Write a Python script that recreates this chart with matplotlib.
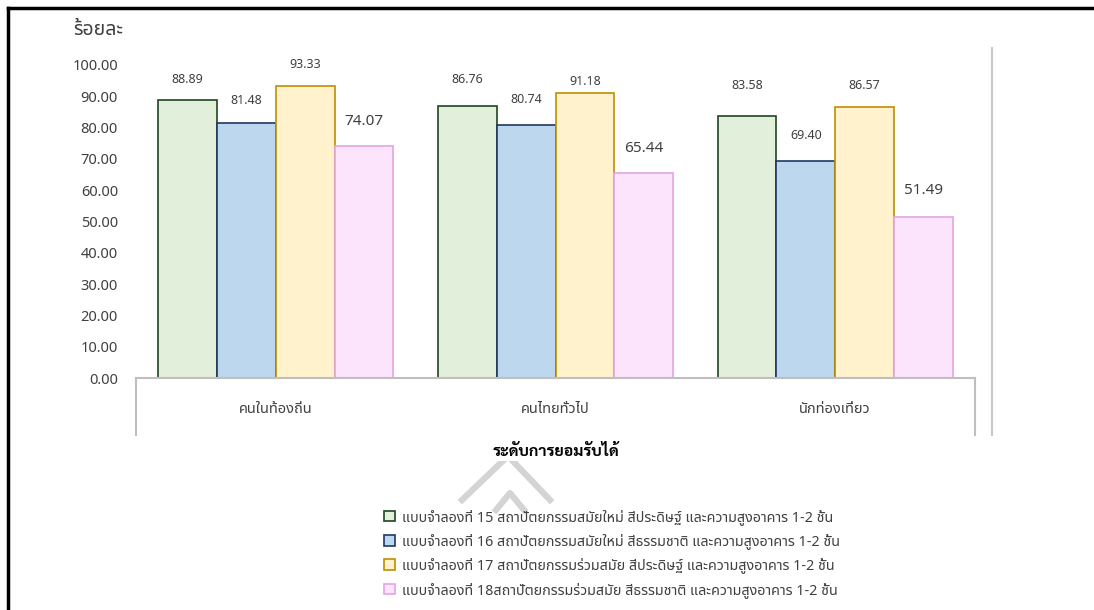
import matplotlib
matplotlib.use("Agg")
import numpy as np
import matplotlib.pyplot as plt
from matplotlib import font_manager
from matplotlib.lines import Line2D

# ฟอนต์ภาษาไทย
fl = font_manager.fontManager.ttflist
names = set(f.name for f in fl)
thai_font = 'Noto Sans Thai' if 'Noto Sans Thai' in names else 'Sarabun'
bold_ok = any(f.name == thai_font and f.weight in (700, 'bold') for f in fl)
thai_bold = thai_font if bold_ok or 'Sarabun' not in names else 'Sarabun'
plt.rcParams['font.family'] = ['Noto Sans', thai_font, 'DejaVu Sans']

# ข้อมูล
groups = ['คนในท้องถิ่น', 'คนไทยทั่วไป', 'นักท่องเที่ยว']
series = [
    'แบบจำลองที่ 15 สถาปัตยกรรมสมัยใหม่ สีประดิษฐ์ และความสูงอาคาร 1-2 ชั้น',
    'แบบจำลองที่ 16 สถาปัตยกรรมสมัยใหม่ สีธรรมชาติ และความสูงอาคาร 1-2 ชั้น',
    'แบบจำลองที่ 17 สถาปัตยกรรมร่วมสมัย สีประดิษฐ์ และความสูงอาคาร 1-2 ชั้น',
    'แบบจำลองที่ 18สถาปัตยกรรมร่วมสมัย สีธรรมชาติ และความสูงอาคาร 1-2 ชั้น',
]
m15 = [88.89, 86.76, 83.58]
m16 = [81.48, 80.74, 69.40]
m17 = [93.33, 91.18, 86.57]
m18 = [74.07, 65.44, 51.49]
values = [m15, m16, m17, m18]
yticks = [0, 10, 20, 30, 40, 50, 60, 70, 80, 90, 100]

# สไตล์
fills = ['#E2EFDA', '#BDD7EE', '#FFF2CC', '#FCE4FC']
edges = ['#1E4620', '#1F3864', '#BF8F00', '#E2A6E2']
label_sizes = [9, 9, 9, 11]
# ระยะป้ายตัวเลขเหนือแท่ง (px)
label_offsets = [[20, 22, 21, 25], [27, 26, 11, 25], [31, 25, 22, 26]]

W, H = 1094, 610
fig = plt.figure(figsize=(W / 100, H / 100), dpi=100)

def fx(px):
    return px / W

def fy(py):
    return 1 - py / H

ax = fig.add_axes([fx(136), fy(378), fx(975) - fx(136), fy(65) - fy(378)])
x = np.arange(len(groups))
bw = 0.21
bars = []
for i, vals in enumerate(values):
    pos = x + (i - 1.5) * bw
    b = ax.bar(pos, vals, bw, color=fills[i], edgecolor=edges[i],
               linewidth=1.2, label=series[i], zorder=2)
    bars.append(b)
    for j, v in enumerate(vals):
        ax.annotate('%.2f' % v, (pos[j], v),
                    xytext=(0, label_offsets[j][i] * 0.72),
                    textcoords='offset points', ha='center', va='center',
                    fontsize=label_sizes[i], color='#404040',
                    annotation_clip=False)

ax.set_xlim(-0.5, 2.5)
ax.set_ylim(0, 100)
ax.set_yticks(yticks)
ax.set_yticklabels(['%.2f' % t for t in yticks])
ax.tick_params(axis='y', length=0, pad=13, labelsize=10.5, labelcolor='#404040')
ax.set_xticks([])
for s in ['top', 'left', 'right']:
    ax.spines[s].set_visible(False)
ax.spines['bottom'].set_color('#BFBFBF')
ax.spines['bottom'].set_linewidth(1.5)
ax.patch.set_visible(False)

# ป้ายหมวดหมู่และกรอบแกน
for j, g in enumerate(groups):
    ax.text(x[j], -0.1, g, transform=ax.get_xaxis_transform(),
            ha='center', va='center', fontsize=10.5, color='#404040')
for xe in [-0.5, 2.5]:
    ax.plot([xe, xe], [0, -0.182], transform=ax.get_xaxis_transform(),
            color='#BFBFBF', linewidth=1.5, clip_on=False)

fig.add_artist(Line2D([fx(992), fx(992)], [fy(48), fy(435)],
                      color='#C8C8C8', linewidth=1.5))

# ชื่อแกน
fig.text(fx(73), fy(30), 'ร้อยละ', fontsize=14, color='#404040', va='center')

# ลายน้ำ
fig.add_artist(Line2D([fx(462), fx(508), fx(550)], [fy(500), fy(456), fy(500)],
                      color='#D4D4D4', linewidth=4.5, zorder=0))
fig.add_artist(Line2D([fx(496), fx(510), fx(524)], [fy(510), fy(493), fy(510)],
                      color='#D4D4D4', linewidth=4.5, zorder=0))

fig.text(fx(556), fy(452), 'ระดับการยอมรับได้', fontsize=11.5, fontweight='bold',
         family=['Noto Sans', thai_bold, 'DejaVu Sans'],
         ha='center', va='center', color='black', zorder=3,
         bbox=dict(facecolor='white', edgecolor='none', pad=0.5))

leg = fig.legend(handles=bars, labels=series, loc='upper left',
                 bbox_to_anchor=(fx(377), fy(502)), frameon=False,
                 fontsize=10.3, handlelength=0.75, handleheight=0.75,
                 handletextpad=0.5, labelspacing=0.58, borderpad=0)
for t in leg.get_texts():
    t.set_color('#404040')

# กรอบภาพ
fig.add_artist(Line2D([fx(8), 1], [fy(8), fy(8)], color='black', linewidth=2.5))
fig.add_artist(Line2D([fx(8), fx(8)], [fy(8), 0], color='black', linewidth=2.5))

fig.savefig('out.png', dpi=100)
